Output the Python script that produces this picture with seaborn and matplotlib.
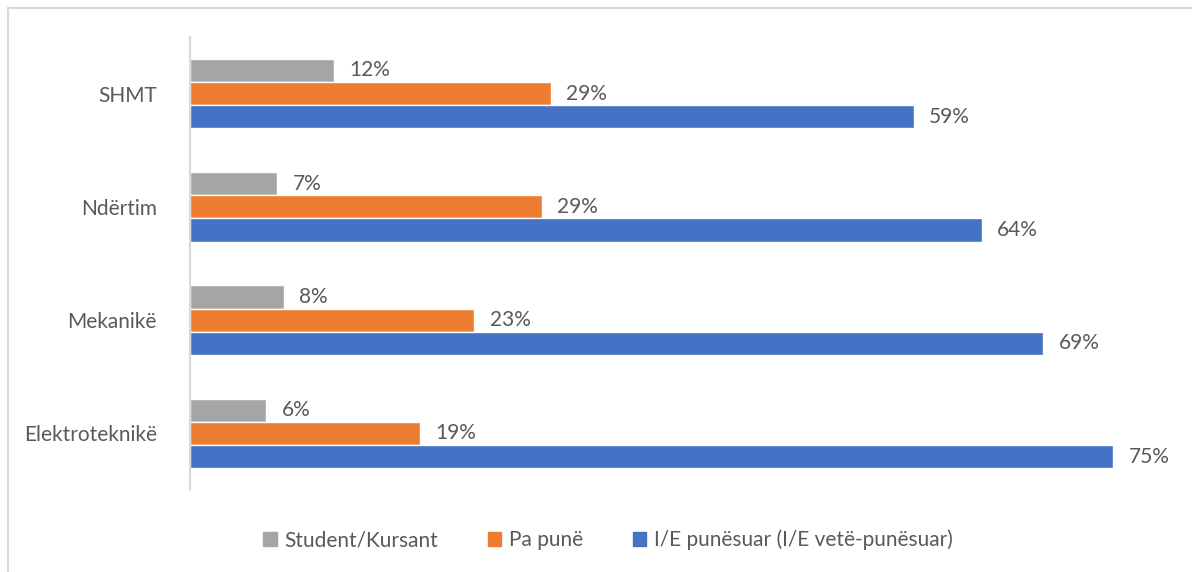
import numpy as np
import pandas as pd
import matplotlib
matplotlib.use("Agg")
import matplotlib.pyplot as plt
import seaborn as sns
from matplotlib.patches import Rectangle

# data (bar lengths in %)
categories = ["SHMT", "Ndërtim", "Mekanikë", "Elektroteknikë"]
series_names = ["Student/Kursant", "Pa punë", "I/E punësuar (I/E vetë-punësuar)"]
student = [11.7, 7.1, 7.6, 6.2]
pa_pune = [29.3, 28.6, 23.1, 18.7]
punesuar = [58.8, 64.3, 69.3, 75.0]

colors = ["#A5A5A5", "#ED7D31", "#4472C4"]
text_color = "#595959"

df = pd.DataFrame({
    "kategoria": categories * 3,
    "seria": np.repeat(series_names, len(categories)),
    "vlera": student + pa_pune + punesuar,
})

sns.set_theme(style="white")
plt.rcParams["font.family"] = ["Lato", "DejaVu Sans"]

fig = plt.figure(figsize=(11.92, 5.72), dpi=100)
ax = fig.add_axes([190 / 1192, 1 - 490 / 572, 985 / 1192, 453 / 572])

sns.barplot(
    data=df,
    y="kategoria",
    x="vlera",
    hue="seria",
    order=categories,
    hue_order=series_names,
    palette=colors,
    orient="h",
    width=0.615,
    saturation=1,
    ax=ax,
)

# value labels
for container in ax.containers:
    labels = [f"{v:.0f}%" for v in container.datavalues]
    ax.bar_label(container, labels=labels, padding=11, fontsize=15,
                 color=text_color)

ax.set_xlim(0, 80)
ax.set_ylim(3.5, -0.5)
ax.set_xlabel("")
ax.set_ylabel("")
ax.set_xticks([])
ax.tick_params(axis="y", length=0, pad=24, labelsize=15, labelcolor=text_color)

for side in ["top", "right", "bottom"]:
    ax.spines[side].set_visible(False)
ax.spines["left"].set_color("#D9D9D9")
ax.spines["left"].set_linewidth(1.5)

ax.legend_.remove()
handles = [plt.Rectangle((0, 0), 1, 1, color=c) for c in colors]
fig.legend(handles, series_names, loc="center", bbox_to_anchor=(0.51, 1 - 540 / 572),
           ncol=3, frameon=False, fontsize=15, handlelength=0.65, handleheight=0.65,
           handletextpad=0.35, columnspacing=2.4, labelcolor=text_color)

# light frame of the chart area
fig.patches.append(Rectangle((8 / 1192, -0.1), 1.2, 1.1 - 8 / 572,
                             transform=fig.transFigure, fill=False,
                             edgecolor="#D9D9D9", linewidth=1.5))

fig.savefig("out.png", dpi=100, facecolor="white")
